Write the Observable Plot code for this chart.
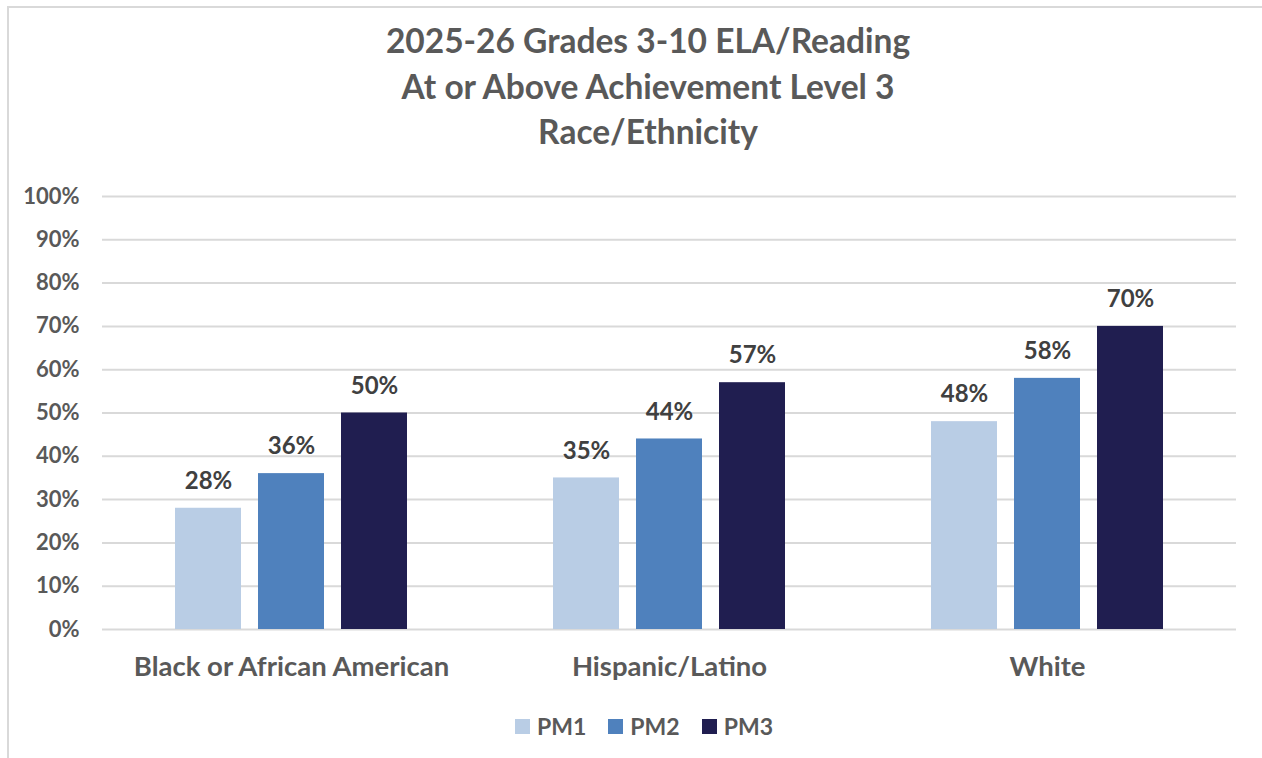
<!DOCTYPE html>
<html>
<head>
<meta charset="utf-8">
<script src="https://cdn.jsdelivr.net/npm/d3@7"></script>
<script src="https://cdn.jsdelivr.net/npm/@observablehq/plot@0.6"></script>
<style>
  html, body { margin: 0; padding: 0; background: #fff; }
  body { width: 1262px; height: 758px; overflow: hidden; position: relative; font-family: Lato, "Open Sans", sans-serif; }
  #frame { position: absolute; left: 7px; top: 6px; right: -20px; bottom: -20px; border-left: 2px solid #d9d9d9; border-top: 2px solid #d9d9d9; pointer-events: none; }
  #title { position: relative; width: 1296px; height: 170px; text-align: center; color: #595959; font-weight: bold; font-size: 33.5px; line-height: 45.5px; padding-top: 18px; box-sizing: border-box; }
  #chart { position: relative; height: 530px; }
  #chart svg { display: block; }
  #legend { position: relative; width: 1288px; height: 58px; display: flex; justify-content: center; align-items: center; gap: 22px; color: #595959; font-weight: bold; font-size: 23px; margin-top: -3px; }
  .item { display: flex; align-items: center; gap: 7px; }
  .sw { width: 15px; height: 15px; display: inline-block; }
</style>
</head>
<body>
<div id="frame"></div>
<div id="title"></div>
<div id="chart"></div>
<div id="legend"></div>
<script>
const titleLines = ["2025-26 Grades 3-10 ELA/Reading", "At or Above Achievement Level 3", "Race/Ethnicity"];
const categories = ["Black or African American", "Hispanic/Latino", "White"];
const periods = ["PM1", "PM2", "PM3"];
const pm1 = [0.28, 0.35, 0.48];
const pm2 = [0.36, 0.44, 0.58];
const pm3 = [0.50, 0.57, 0.70];
const colors = ["#b9cde5", "#4f81bd", "#201e50"];
const yTicks = [0, 0.1, 0.2, 0.3, 0.4, 0.5, 0.6, 0.7, 0.8, 0.9, 1.0];

const series = [pm1, pm2, pm3];
const data = [];
categories.forEach((c, i) => periods.forEach((p, j) => data.push({category: c, period: p, value: series[j][i]})));
const pct = d => Math.round(d * 100) + "%";

document.getElementById("title").innerHTML = titleLines.map(t => `<div>${t}</div>`).join("");

const chart = Plot.plot({
  width: 1262,
  height: 530,
  marginLeft: 101,
  marginRight: 25,
  marginTop: 26,
  marginBottom: 71,
  style: {fontFamily: "Lato, 'Open Sans', sans-serif", background: "transparent"},
  fx: {domain: categories, padding: 0, label: null},
  x: {domain: periods, paddingInner: 0.2, paddingOuter: 0.854, axis: null},
  y: {domain: [0, 1], label: null},
  color: {domain: periods, range: colors},
  marks: [
    Plot.ruleY(yTicks, {stroke: "#d9d9d9", strokeWidth: 2}),
    Plot.axisY({ticks: yTicks, tickSize: 0, tickPadding: 23, tickFormat: pct, fontSize: 22, fontWeight: "bold", fill: "#595959", label: null}),
    Plot.axisFx({anchor: "bottom", tickSize: 0, tickPadding: 27, fontSize: 27.5, fontWeight: "bold", fill: "#595959", label: null}),
    Plot.barY(data, {fx: "category", x: "period", y: "value", fill: "period"}),
    Plot.text(data, {fx: "category", x: "period", y: "value", text: d => pct(d.value), dy: -27, fontSize: 24, fontWeight: "bold", fill: "#404040"})
  ]
});
document.getElementById("chart").appendChild(chart);

document.getElementById("legend").innerHTML = periods.map((p, i) =>
  `<span class="item"><span class="sw" style="background:${colors[i]}"></span>${p}</span>`).join("");
</script>
</body>
</html>
